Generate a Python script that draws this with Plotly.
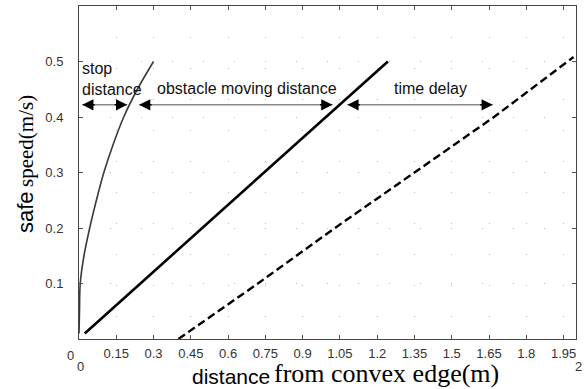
import plotly.graph_objects as go

# ---- data ----
stop_x = [0.0, 0.002, 0.005, 0.02, 0.043, 0.07, 0.10, 0.137, 0.18, 0.235, 0.30]
stop_v = [0.01, 0.05, 0.10, 0.15, 0.20, 0.25, 0.30, 0.35, 0.40, 0.45, 0.50]

move_x = [0.023, 0.247, 0.496, 0.745, 0.994, 1.243]
move_v = [0.01, 0.10, 0.20, 0.30, 0.40, 0.50]

delay_x = [0.40, 0.72, 1.03, 1.35, 1.67, 1.99]
delay_v = [0.0, 0.10, 0.20, 0.30, 0.40, 0.508]

x_ticks = [0.15, 0.3, 0.45, 0.6, 0.75, 0.9, 1.05, 1.2, 1.35, 1.5, 1.65, 1.8, 1.95]
x_tick_text = ["0.15", "0.3", "0.45", "0.6", "0.75", "0.9", "1.05", "1.2", "1.35", "1.5", "1.65", "1.8", "1.95"]
y_ticks = [0.1, 0.2, 0.3, 0.4, 0.5]
y_tick_text = ["0.1", "0.2", "0.3", "0.4", "0.5"]

arrow_v = 0.422
spans = [
    (0.013, 0.194),
    (0.242, 1.02),
    (1.08, 1.665),
]
labels = ["obstacle moving distance", "time delay"]
label_x = [0.675, 1.415]

SANS = "Liberation Sans"
SERIF = "Liberation Serif"

fig = go.Figure()
fig.add_trace(go.Scatter(x=stop_x, y=stop_v, mode="lines", line=dict(color="#3a3a3a", width=1.6, shape="spline"), showlegend=False))
fig.add_trace(go.Scatter(x=move_x, y=move_v, mode="lines", line=dict(color="black", width=2.6), showlegend=False))
fig.add_trace(go.Scatter(x=delay_x, y=delay_v, mode="lines", line=dict(color="black", width=2.4, dash="8px,4px"), showlegend=False))

ann = []
shapes = []
for (a, b) in spans:
    shapes.append(dict(type="line", xref="x", yref="y", x0=a, x1=b, y0=arrow_v, y1=arrow_v,
                       line=dict(color="#8a8a8a", width=1.4)))
    ann.append(dict(x=a, y=arrow_v, xref="x", yref="y", ax=14, ay=0, text="", showarrow=True,
                    arrowhead=2, arrowsize=1.4, arrowwidth=1.6, arrowcolor="black"))
    ann.append(dict(x=b, y=arrow_v, xref="x", yref="y", ax=-14, ay=0, text="", showarrow=True,
                    arrowhead=2, arrowsize=1.4, arrowwidth=1.6, arrowcolor="black"))

txtfont = dict(family=SANS, size=16, color="#111")
ann.append(dict(x=0.004, y=0.487, xref="x", yref="y", text="stop", showarrow=False, xanchor="left", font=txtfont))
ann.append(dict(x=0.004, y=0.449, xref="x", yref="y", text="distance", showarrow=False, xanchor="left", font=txtfont))
for t, lx in zip(labels, label_x):
    ann.append(dict(x=lx, y=0.452, xref="x", yref="y", text=t, showarrow=False, font=txtfont))

tickfont = dict(family=SANS, size=13, color="#333")
ann.append(dict(x=70, y=355, xref="paper", yref="paper", text="0", showarrow=False, font=tickfont))
ann.append(dict(x=80, y=366, xref="paper", yref="paper", text="0", showarrow=False, font=tickfont))
ann.append(dict(x=578, y=366, xref="paper", yref="paper", text="2", showarrow=False, font=tickfont))

# axis titles (mixed fonts as separate pieces)
ann.append(dict(x=231, y=376, xref="paper", yref="paper", showarrow=False, text="distance",
                font=dict(family=SANS, size=21, color="black")))
ann.append(dict(x=386, y=373, xref="paper", yref="paper", showarrow=False, text="from convex edge(m)",
                font=dict(family=SERIF, size=26, color="black")))
ann.append(dict(x=25, y=212, xref="paper", yref="paper", showarrow=False, textangle=-90, text="safe",
                font=dict(family=SANS, size=22, color="black")))
ann.append(dict(x=26, y=141, xref="paper", yref="paper", showarrow=False, textangle=-90, text="speed(m/s)",
                font=dict(family=SERIF, size=21, color="black")))

L, R, T, B = 79, 8, 6, 50
W, H = 584, 389
pw, ph = W - L - R, H - T - B
for a in ann:
    if a.get("xref") == "paper":
        a["x"] = (a["x"] - L) / pw
        a["y"] = (H - B - a["y"]) / ph
        a["xanchor"] = "center"
        a["yanchor"] = "middle"

axis_common = dict(showline=True, linecolor="#444", linewidth=1, mirror="ticks", ticks="inside",
                   ticklen=4, tickcolor="#555", zeroline=False, showgrid=True,
                   gridcolor="#bbbbbb", griddash="1px,30px", gridwidth=1, tickfont=tickfont)

fig.update_layout(
    width=W, height=H, margin=dict(l=L, r=R, t=T, b=B),
    paper_bgcolor="white", plot_bgcolor="white",
    xaxis=dict(range=[0, 2], tickvals=x_ticks, ticktext=x_tick_text, ticklabelstandoff=2, **axis_common),
    yaxis=dict(range=[0, 0.6], tickvals=y_ticks, ticktext=y_tick_text, ticklabelstandoff=12, **axis_common),
    annotations=ann, shapes=shapes,
)
fig.write_html("out.html")
